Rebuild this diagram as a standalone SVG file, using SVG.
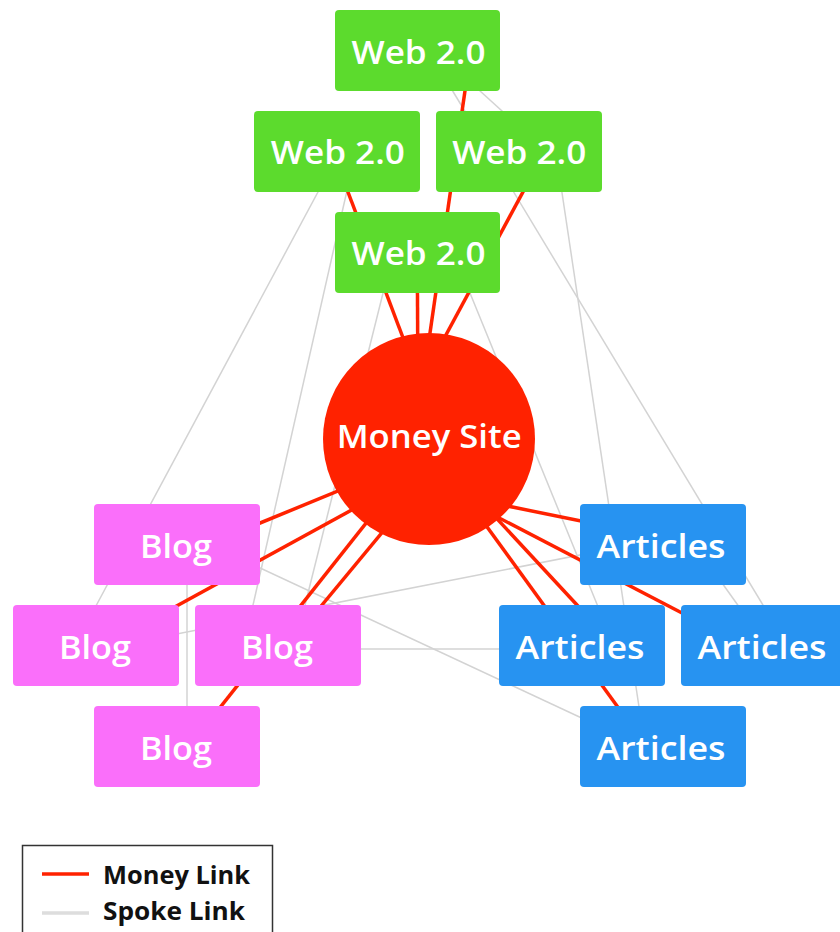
<svg xmlns="http://www.w3.org/2000/svg" width="840" height="932" viewBox="0 0 840 932">
<style>
.money{stroke:#ff2200;stroke-width:3.5;fill:none}
.spoke{stroke:#d3d3d3;stroke-width:1.5;fill:none}
.web rect{fill:#5cdb2d}
.blog rect{fill:#fa6ffa}
.art rect{fill:#2793f1}
.lbl{font-family:"Open Sans","DejaVu Sans",sans-serif;font-weight:600;font-size:33px;fill:#ffffff;text-anchor:middle}
.leg{font-family:"Open Sans","DejaVu Sans",sans-serif;font-weight:700;font-size:25px;fill:#111111}
</style>
<rect width="840" height="932" fill="#ffffff"/>
<g id="connectors">
  <g id="spoke-links">
    <line class="spoke" x1="434" y1="60" x2="778" y2="630"/>
    <line class="spoke" x1="555.6" y1="150" x2="644.7" y2="745"/>
    <line class="spoke" x1="456.5" y1="260" x2="611.6" y2="640"/>
    <line class="spoke" x1="110" y1="647.1" x2="650" y2="541.3"/>
    <line class="spoke" x1="200" y1="540" x2="640" y2="745.2"/>
    <line class="spoke" x1="300" y1="649" x2="560" y2="649"/>
    <line class="spoke" x1="356.2" y1="150" x2="245.1" y2="640"/>
    <line class="spoke" x1="391.3" y1="260" x2="296.3" y2="640"/>
    <line class="spoke" x1="340.5" y1="150" x2="77.7" y2="640"/>
    <line class="spoke" x1="457" y1="70" x2="534" y2="140"/>
    <line class="spoke" x1="187" y1="560" x2="187" y2="740"/>
    <line class="spoke" x1="705.6" y1="560" x2="755.6" y2="630"/>
  </g>
  <g id="money-links">
    <line class="money" x1="470.9" y1="50" x2="420.3" y2="400"/>
    <line class="money" x1="335.9" y1="160" x2="426.5" y2="400"/>
    <line class="money" x1="417.3" y1="260" x2="418" y2="400"/>
    <line class="money" x1="540.2" y1="160" x2="410.9" y2="400"/>
    <line class="money" x1="200" y1="547.7" x2="400" y2="465.5"/>
    <line class="money" x1="120" y1="637" x2="400" y2="483.5"/>
    <line class="money" x1="293" y1="640" x2="417.3" y2="490"/>
    <line class="money" x1="194.3" y1="740" x2="400.2" y2="480"/>
    <line class="money" x1="460" y1="496.4" x2="650" y2="535"/>
    <line class="money" x1="460" y1="497.6" x2="720" y2="632.8"/>
    <line class="money" x1="453" y1="480" x2="641.7" y2="740"/>
    <line class="money" x1="461" y1="480" x2="609.5" y2="640"/>
  </g>
</g>
<g id="web-top" class="web"><rect x="335" y="10" width="165" height="81" rx="4"/><text class="lbl" x="418.5" y="64" textLength="134" lengthAdjust="spacingAndGlyphs">Web 2.0</text></g>
<g id="web-left" class="web"><rect x="254" y="111" width="166" height="81" rx="4"/><text class="lbl" x="337.8" y="164" textLength="134" lengthAdjust="spacingAndGlyphs">Web 2.0</text></g>
<g id="web-right" class="web"><rect x="436" y="111" width="166" height="81" rx="4"/><text class="lbl" x="519.2" y="164" textLength="134" lengthAdjust="spacingAndGlyphs">Web 2.0</text></g>
<g id="web-bottom" class="web"><rect x="335" y="212" width="165" height="81" rx="4"/><text class="lbl" x="418.5" y="265" textLength="134" lengthAdjust="spacingAndGlyphs">Web 2.0</text></g>
<g id="money-site"><circle cx="429" cy="439" r="106" fill="#ff2200"/><text class="lbl" x="429.2" y="448" textLength="185" lengthAdjust="spacingAndGlyphs">Money Site</text></g>
<g id="blog-top" class="blog"><rect x="94" y="504" width="166" height="81" rx="4"/><text class="lbl" x="176" y="558" textLength="72" lengthAdjust="spacingAndGlyphs">Blog</text></g>
<g id="blog-left" class="blog"><rect x="13" y="605" width="166" height="81" rx="4"/><text class="lbl" x="95" y="659" textLength="72" lengthAdjust="spacingAndGlyphs">Blog</text></g>
<g id="blog-right" class="blog"><rect x="195" y="605" width="166" height="81" rx="4"/><text class="lbl" x="277" y="659" textLength="72" lengthAdjust="spacingAndGlyphs">Blog</text></g>
<g id="blog-bottom" class="blog"><rect x="94" y="706" width="166" height="81" rx="4"/><text class="lbl" x="176" y="760" textLength="72" lengthAdjust="spacingAndGlyphs">Blog</text></g>
<g id="articles-top" class="art"><rect x="580" y="504" width="166" height="81" rx="4"/><text class="lbl" x="661" y="558" textLength="129" lengthAdjust="spacingAndGlyphs">Articles</text></g>
<g id="articles-left" class="art"><rect x="499" y="605" width="166" height="81" rx="4"/><text class="lbl" x="580" y="659" textLength="129" lengthAdjust="spacingAndGlyphs">Articles</text></g>
<g id="articles-right" class="art"><rect x="681" y="605" width="166" height="81" rx="4"/><text class="lbl" x="762" y="659" textLength="129" lengthAdjust="spacingAndGlyphs">Articles</text></g>
<g id="articles-bottom" class="art"><rect x="580" y="706" width="166" height="81" rx="4"/><text class="lbl" x="661" y="760" textLength="129" lengthAdjust="spacingAndGlyphs">Articles</text></g>
<g id="legend">
  <rect x="22.5" y="845.5" width="250" height="110" fill="#ffffff" stroke="#333333" stroke-width="1.5"/>
  <line x1="42" y1="874" x2="89" y2="874" stroke="#ff2200" stroke-width="3.5"/>
  <line x1="42" y1="913" x2="89" y2="913" stroke="#dddddd" stroke-width="3.5"/>
  <text class="leg" x="103" y="884" textLength="147" lengthAdjust="spacingAndGlyphs">Money Link</text>
  <text class="leg" x="103" y="920" textLength="142" lengthAdjust="spacingAndGlyphs">Spoke Link</text>
</g>
</svg>
